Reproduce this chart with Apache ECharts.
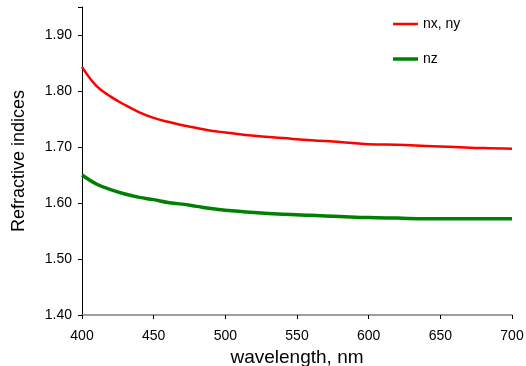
<!DOCTYPE html>
<html>
<head>
<meta charset="utf-8">
<script src="https://cdn.jsdelivr.net/npm/echarts@6/dist/echarts.min.js"></script>
<style>
  html, body { margin: 0; padding: 0; background: #fff; }
  #chart { width: 526px; height: 366px; }
</style>
</head>
<body>
<div id="chart"></div>
<script>
// wavelength (nm)
const wavelengths = [400, 410, 420, 430, 440, 450, 460, 470, 480, 490, 500,
  520, 540, 560, 580, 600, 620, 640, 660, 680, 700];
// nx, ny (in-plane)
const nxny = [1.843, 1.809, 1.790, 1.775, 1.762, 1.752, 1.745, 1.739, 1.734, 1.729, 1.726,
  1.720, 1.716, 1.712, 1.709, 1.705, 1.704, 1.702, 1.700, 1.698, 1.697];
// nz (out-of-plane)
const nz = [1.650, 1.634, 1.624, 1.616, 1.610, 1.606, 1.601, 1.598, 1.594, 1.590, 1.587,
  1.583, 1.580, 1.578, 1.576, 1.574, 1.573, 1.572, 1.572, 1.572, 1.572];

const font = "'Liberation Sans', Arial, sans-serif";
const pair = (ys) => wavelengths.map((x, i) => [x, ys[i]]);

const chart = echarts.init(document.getElementById("chart"), null, { renderer: "canvas" });
chart.setOption({
  animation: false,
  backgroundColor: "#fff",
  textStyle: { fontFamily: font },
  grid: { left: 82, right: 14, top: 7, bottom: 51, outerBoundsMode: "none", containLabel: false },
  legend: {
    orient: "vertical",
    left: 388,
    top: 12,
    itemGap: 21,
    itemWidth: 25,
    itemHeight: 14,
    textStyle: { fontFamily: font, fontSize: 14, color: "#000" },
    data: [
      { name: "nx, ny", icon: "path://M0,6 L25,6 L25,8.5 L0,8.5 Z" },
      { name: "nz", icon: "path://M0,5.5 L25,5.5 L25,9 L0,9 Z" },
    ],
  },
  xAxis: {
    type: "value",
    min: 400,
    max: 700,
    interval: 50,
    name: "wavelength, nm",
    nameLocation: "middle",
    nameGap: 29,
    nameTextStyle: { fontFamily: font, fontSize: 19, color: "#000" },
    axisLine: { lineStyle: { color: "#808080", width: 1.5 } },
    axisTick: { inside: false, length: 4, lineStyle: { color: "#000" } },
    axisLabel: { margin: 14, fontFamily: font, fontSize: 14, color: "#000" },
    splitLine: { show: false },
  },
  yAxis: {
    type: "value",
    min: 1.4,
    max: 1.95,
    interval: 0.1,
    name: "Refractive indices",
    nameLocation: "middle",
    nameGap: 54,
    nameTextStyle: { fontFamily: font, fontSize: 18, color: "#000" },
    axisLine: { show: true, lineStyle: { color: "#000", width: 1 } },
    axisTick: { show: true, inside: false, length: 4, lineStyle: { color: "#000" } },
    axisLabel: {
      margin: 10,
      fontFamily: font,
      fontSize: 14,
      color: "#000",
      formatter: (v) => (v > 1.91 ? "" : v.toFixed(2)),
    },
    splitLine: { show: false },
  },
  series: [
    {
      name: "nx, ny",
      type: "line",
      data: pair(nxny),
      smooth: 0.4,
      showSymbol: false,
      color: "#ff0000",
      lineStyle: { color: "#ff0000", width: 2.5 },
    },
    {
      name: "nz",
      type: "line",
      data: pair(nz),
      smooth: 0.4,
      showSymbol: false,
      color: "#008000",
      lineStyle: { color: "#008000", width: 3.5 },
    },
  ],
});
</script>
</body>
</html>
